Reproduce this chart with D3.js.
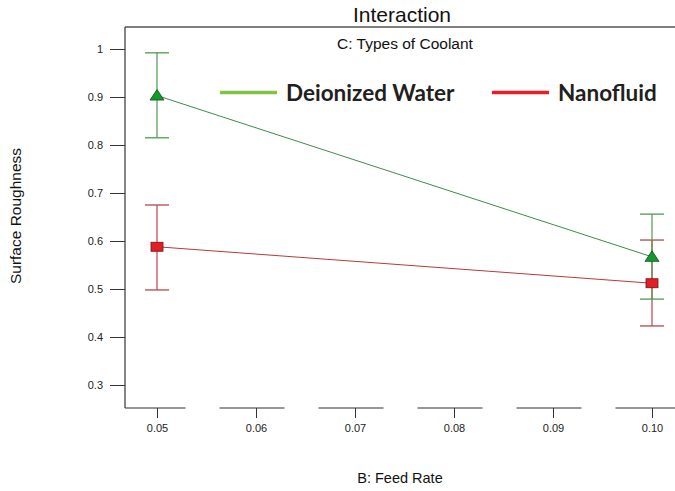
<!DOCTYPE html>
<html>
<head>
<meta charset="utf-8">
<script src="https://cdn.jsdelivr.net/npm/d3@7"></script>
<style>
  body { margin: 0; background: #fff; }
  text { font-family: "Liberation Sans", Arial, sans-serif; }
</style>
</head>
<body>
<script>
'use strict';

// feed rate levels and tick labels
const feedRates = [0.05, 0.10];
const xTicks = [0.05, 0.06, 0.07, 0.08, 0.09, 0.10];
const yTicks = [0.3, 0.4, 0.5, 0.6, 0.7, 0.8, 0.9, 1];

// surface roughness means with error bar limits
const waterMean = [0.903, 0.567];
const waterLow = [0.815, 0.479];
const waterHigh = [0.992, 0.656];
const nanoMean = [0.588, 0.512];
const nanoLow = [0.498, 0.423];
const nanoHigh = [0.675, 0.602];

const seriesNames = ["Deionized Water", "Nanofluid"];

(function() {
  let svg = d3.select('body')
    .append('svg')
    .attr('width', 675)
    .attr('height', 491);

  let xScale = d3.scaleLinear()
    .domain([0.05, 0.10])
    .range([157, 652]);

  let yScale = d3.scaleLinear()
    .domain([0.3, 1])
    .range([385, 49]);

  let left = 125, top = 27, bottom = 408;

  // top border line
  svg.append('line')
    .attr('x1', left).attr('x2', 675)
    .attr('y1', top).attr('y2', top)
    .attr('stroke', '#555').attr('stroke-width', 1.3);

  // y axis
  let yAxis = d3.axisLeft(yScale)
    .tickValues(yTicks)
    .tickSize(15)
    .tickPadding(7)
    .tickFormat(d => d === 1 ? '1' : d3.format('.1f')(d));
  let gy = svg.append('g')
    .attr('transform', 'translate(' + left + ',0)')
    .call(yAxis);
  gy.select('.domain').remove();
  gy.selectAll('line').attr('stroke', '#333');
  gy.selectAll('text').style('font-size', '11px').attr('fill', '#222')
    .style('font-family', '"Liberation Sans", Arial, sans-serif');
  svg.append('line')
    .attr('x1', left).attr('x2', left)
    .attr('y1', top).attr('y2', bottom)
    .attr('stroke', '#333').attr('stroke-width', 1.2);

  // x axis, drawn in segments with gaps between ticks like the original
  let xAxis = d3.axisBottom(xScale)
    .tickValues(xTicks)
    .tickSize(10)
    .tickPadding(6)
    .tickFormat(d3.format('.2f'));
  let gx = svg.append('g')
    .attr('transform', 'translate(0,' + bottom + ')')
    .call(xAxis);
  gx.select('.domain').remove();
  gx.selectAll('line').attr('stroke', '#333');
  gx.selectAll('text').style('font-size', '11px').attr('fill', '#222')
    .style('font-family', '"Liberation Sans", Arial, sans-serif');

  let step = xScale(0.06) - xScale(0.05);
  let segStart = left;
  for (let i = 0; i < xTicks.length; i++) {
    let gapMid = xScale(xTicks[i]) + step / 2 - 4;
    let segEnd = i < xTicks.length - 1 ? gapMid - 17 : 675;
    svg.append('line')
      .attr('x1', segStart).attr('x2', segEnd)
      .attr('y1', bottom).attr('y2', bottom)
      .attr('stroke', '#333').attr('stroke-width', 1.2);
    segStart = gapMid + 17;
  }

  // error bars
  function drawErrors(low, high, color) {
    for (let i = 0; i < feedRates.length; i++) {
      let cx = xScale(feedRates[i]);
      svg.append('line')
        .attr('x1', cx).attr('x2', cx)
        .attr('y1', yScale(low[i])).attr('y2', yScale(high[i]))
        .attr('stroke', color).attr('stroke-width', 1.2);
      [low[i], high[i]].forEach(v => {
        svg.append('line')
          .attr('x1', cx - 12).attr('x2', cx + 12)
          .attr('y1', yScale(v)).attr('y2', yScale(v))
          .attr('stroke', color).attr('stroke-width', 1.3);
      });
    }
  }
  drawErrors(nanoLow, nanoHigh, '#b5474a');
  drawErrors(waterLow, waterHigh, '#4f9a4f');

  let line = d3.line()
    .x((d, i) => xScale(feedRates[i]))
    .y(d => yScale(d));

  svg.append('path')
    .attr('d', line(nanoMean))
    .attr('fill', 'none')
    .attr('stroke', '#b83a3a')
    .attr('stroke-width', 1);

  svg.append('path')
    .attr('d', line(waterMean))
    .attr('fill', 'none')
    .attr('stroke', '#3f8a4a')
    .attr('stroke-width', 1);

  // markers
  svg.selectAll('.sq')
    .data(nanoMean)
    .enter()
    .append('rect')
      .attr('x', (d, i) => xScale(feedRates[i]) - 6)
      .attr('y', d => yScale(d) - 4.5)
      .attr('width', 12)
      .attr('height', 9)
      .attr('fill', '#e41e26')
      .attr('stroke', '#6a1515')
      .attr('stroke-width', 0.8);

  svg.selectAll('.tri')
    .data(waterMean)
    .enter()
    .append('path')
      .attr('transform', (d, i) => 'translate(' + xScale(feedRates[i]) + ',' + yScale(d) + ')')
      .attr('d', 'M0,-6L7,4.5L-7,4.5Z')
      .attr('fill', '#139a2a')
      .attr('stroke', '#0d4d18')
      .attr('stroke-width', 0.8);

  // legend
  let legendColors = ['#80c342', '#ed1c24'];
  let legendX = [220, 492];
  seriesNames.forEach((name, i) => {
    svg.append('line')
      .attr('x1', legendX[i]).attr('x2', legendX[i] + 57)
      .attr('y1', 92.5).attr('y2', 92.5)
      .attr('stroke', legendColors[i]).attr('stroke-width', 3.5);
    svg.append('text')
      .attr('x', legendX[i] + 66)
      .attr('y', 100.5)
      .style('font-family', 'Lato, "Open Sans", sans-serif')
      .style('font-weight', 'bold')
      .style('font-size', '22.5px')
      .attr('fill', '#231f20')
      .text(name);
  });

  // title and labels
  svg.append('text')
    .attr('x', 402).attr('y', 22)
    .attr('text-anchor', 'middle')
    .style('font-size', '21px')
    .attr('fill', '#111')
    .text('Interaction');

  svg.append('text')
    .attr('x', 405).attr('y', 49)
    .attr('text-anchor', 'middle')
    .style('font-size', '15.5px')
    .attr('fill', '#111')
    .text('C: Types of Coolant');

  svg.append('text')
    .attr('x', 400).attr('y', 483)
    .attr('text-anchor', 'middle')
    .style('font-size', '14.5px')
    .attr('fill', '#111')
    .text('B: Feed Rate');

  svg.append('text')
    .attr('transform', 'translate(21, 216)rotate(-90)')
    .attr('text-anchor', 'middle')
    .style('font-size', '15.5px')
    .attr('fill', '#111')
    .text('Surface Roughness');
})();
</script>
</body>
</html>
